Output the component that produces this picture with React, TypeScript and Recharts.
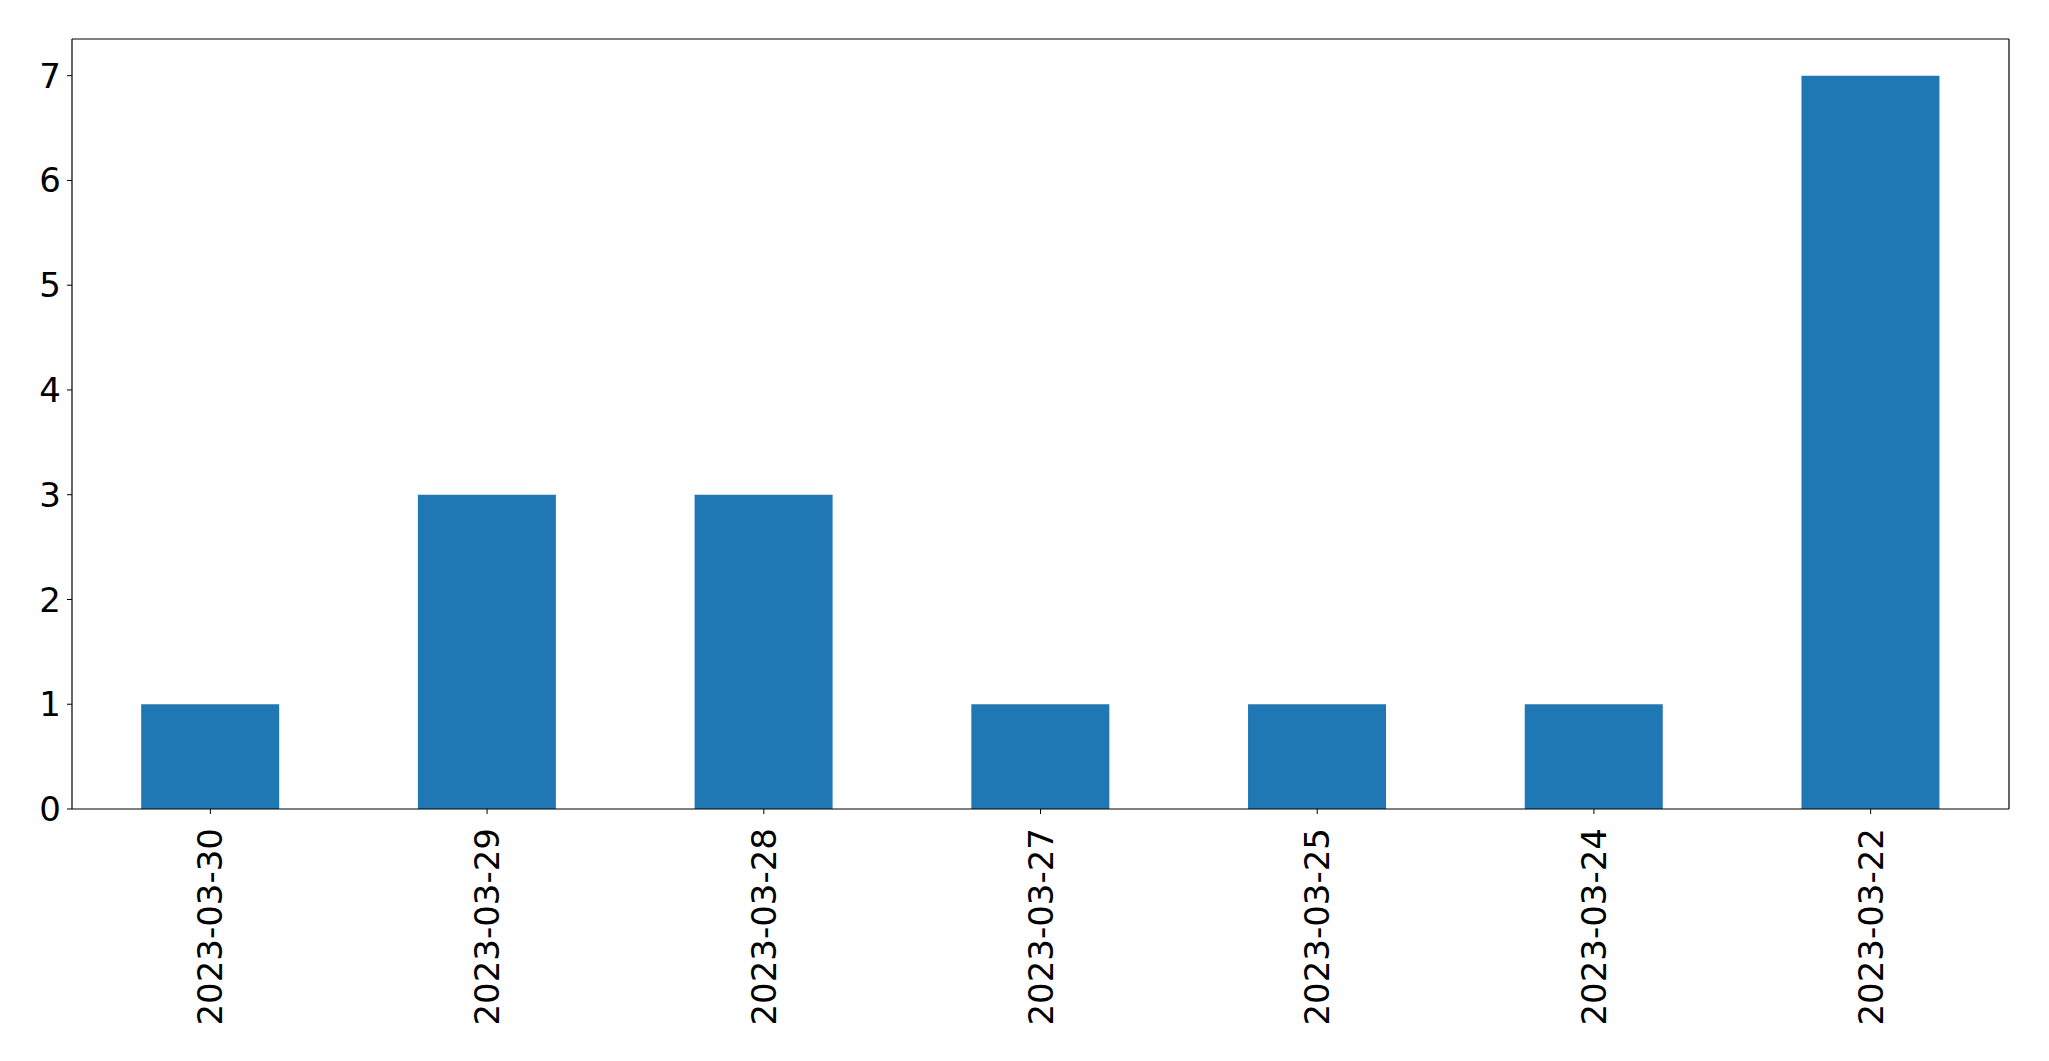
import { BarChart, Bar, XAxis, YAxis, CartesianGrid } from 'recharts';

const dates = ['2023-03-30', '2023-03-29', '2023-03-28', '2023-03-27', '2023-03-25', '2023-03-24', '2023-03-22'];
const counts = [1, 3, 3, 1, 1, 1, 7];
const yTicks = [0, 1, 2, 3, 4, 5, 6, 7];

const data = dates.map((d, i) => ({ date: d, count: counts[i] }));

const FONT = 'DejaVu Sans';
const FS = 34;

function DateTick(props: any) {
  const { x, y, payload } = props;
  return (
    <text
      x={0}
      y={0}
      transform={`translate(${x},${y + 12}) rotate(-90)`}
      textAnchor="end"
      dominantBaseline="central"
      fontFamily={FONT}
      fontSize={FS}
      fill="#000"
    >
      {payload.value}
    </text>
  );
}

export default function App() {
  return (
    <div style={{ position: 'absolute', left: 0, top: 0, width: 2049, height: 1061, background: '#fff' }}>
      <BarChart
        width={2049}
        height={1061}
        data={data}
        margin={{ top: 39, right: 40, bottom: 32, left: 0 }}
        barCategoryGap="25%"
      >
        {/* top + right spines */}
        <CartesianGrid
          stroke="#000"
          strokeWidth={1.2}
          horizontalCoordinatesGenerator={({ offset }: any) => [offset.top]}
          verticalCoordinatesGenerator={({ offset }: any) => [offset.left + offset.width]}
        />
        <XAxis
          dataKey="date"
          interval={0}
          height={220}
          tick={<DateTick />}
          tickSize={5}
          axisLine={{ stroke: '#000', strokeWidth: 1.2 }}
          tickLine={{ stroke: '#000' }}
        />
        <YAxis
          type="number"
          domain={[0, 7.35]}
          ticks={yTicks}
          interval={0}
          width={72}
          tickSize={5}
          tickMargin={6}
          tick={{ fill: '#000', fontFamily: FONT, fontSize: FS }}
          axisLine={{ stroke: '#000', strokeWidth: 1.2 }}
          tickLine={{ stroke: '#000' }}
        />
        <Bar dataKey="count" fill="#1f77b4" isAnimationActive={false} />
      </BarChart>
    </div>
  );
}
